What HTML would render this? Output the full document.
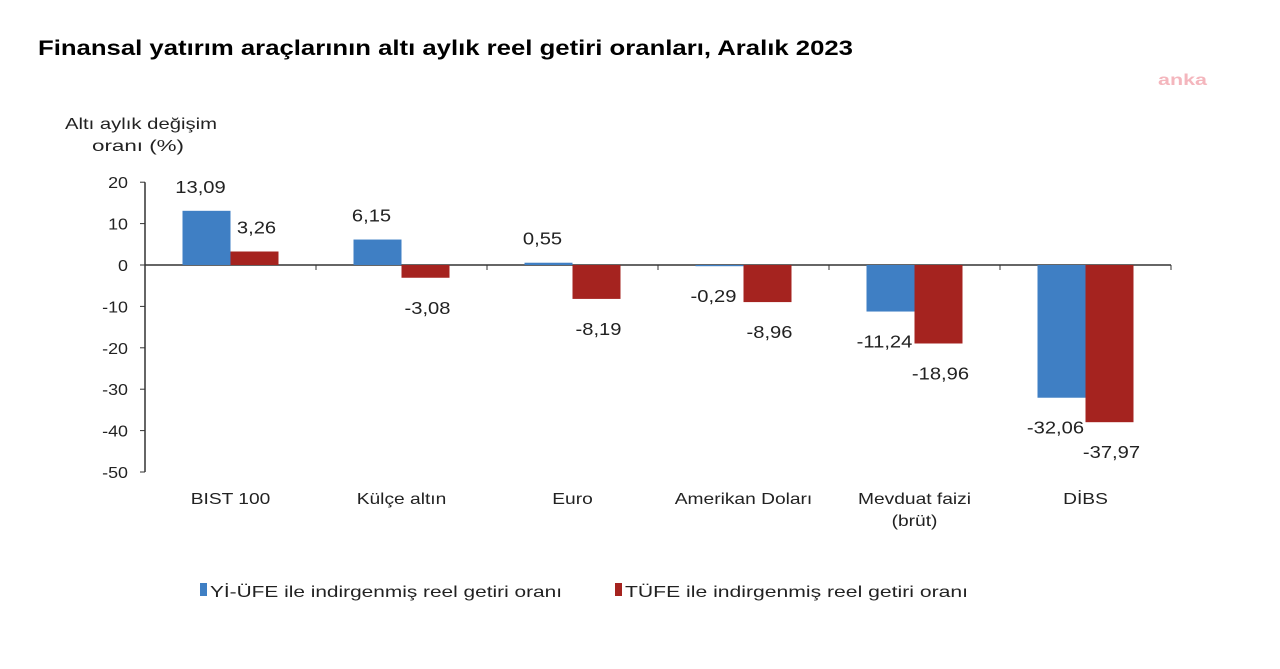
<!DOCTYPE html>
<html><head><meta charset="utf-8"><style>
body{margin:0;background:#fff;width:1280px;height:664px;overflow:hidden;font-family:"Liberation Sans",sans-serif}
</style></head><body>
<svg width="1280" height="664" font-family="Liberation Sans, sans-serif">
<text x="38" y="55" font-size="21" font-weight="bold" fill="#000" textLength="815" lengthAdjust="spacingAndGlyphs">Finansal yatırım araçlarının altı aylık reel getiri oranları, Aralık 2023</text>
<text x="1158" y="85" font-size="16" font-weight="bold" fill="#f4b6bd" textLength="49" lengthAdjust="spacingAndGlyphs">anka</text>
<text x="65" y="129" font-size="16" fill="#222" textLength="152" lengthAdjust="spacingAndGlyphs">Altı aylık değişim</text>
<text x="92" y="151" font-size="16" fill="#222" textLength="92" lengthAdjust="spacingAndGlyphs">oranı (%)</text>
<g id="g"></g>
<rect x="200" y="583" width="7" height="13" fill="#3f7fc4"/>
<text x="210" y="597" font-size="16" fill="#222" textLength="352" lengthAdjust="spacingAndGlyphs">Yİ-ÜFE ile indirgenmiş reel getiri oranı</text>
<rect x="615" y="583" width="7" height="13" fill="#a5231f"/>
<text x="625" y="597" font-size="16" fill="#222" textLength="343" lengthAdjust="spacingAndGlyphs">TÜFE ile indirgenmiş reel getiri oranı</text>
</svg>
<script>
const categories=["BIST 100","Külçe altın","Euro","Amerikan Doları","Mevduat faizi|(brüt)","DİBS"];
const yiufe=[13.09,6.15,0.55,-0.29,-11.24,-32.06];
const tufe=[3.26,-3.08,-8.19,-8.96,-18.96,-37.97];
const ticks=[20,10,0,-10,-20,-30,-40,-50];
const NS="http://www.w3.org/2000/svg";
const g=document.getElementById('g');
const x0=145,step=171,bw=48;
function y(v){return 265-v*4.14;}
function fmt(v){return v.toFixed(2).replace('.',',');}
function mk(t,a){const e=document.createElementNS(NS,t);for(const k in a)e.setAttribute(k,a[k]);g.appendChild(e);return e;}
function txt(x,yy,s,size,anchor,sc){const e=mk('text',{x:0,y:0,'font-size':size,fill:'#222','text-anchor':anchor,transform:`translate(${x},${yy}) scale(${sc},1)`});e.textContent=s;return e;}
let ax=mk('line',{x1:x0,x2:x0,y1:y(20),y2:y(-50),stroke:'#333','stroke-width':1.5});


let xa=mk('line',{x1:x0,x2:x0+6*step,y1:y(0),y2:y(0),stroke:'#333','stroke-width':1.5});


ticks.forEach(t=>{
 mk('line',{x1:x0-5,x2:x0,y1:y(t),y2:y(t),stroke:'#333'});
 const tx=txt(x0-17,y(t)+6,String(t),16,'end',1.12);
 
 
});
for(let i=0;i<=6;i++)mk('line',{x1:x0+i*step,x2:x0+i*step,y1:y(0),y2:y(0)+5,stroke:'#333'});
categories.forEach((c,i)=>{
 const cx=x0+i*step+step/2;
 c.split('|').forEach((ln,j)=>{const t=txt(cx,504+j*22,ln,16,'middle',1.2);
 
 });
 [[yiufe[i],'#3f7fc4',cx-bw,'bar-yiufe',-6],[tufe[i],'#a5231f',cx,'bar-tufe',2]].forEach(([v,col,bx,nm,off])=>{
  const r=mk('rect',{x:bx,y:Math.min(y(v),y(0)),width:bw,height:Math.abs(y(v)-y(0)),fill:col});
  
  
  const ly=v>=0?y(v)-18:y(v)+36;
  const t=txt(bx+bw/2+off,ly,fmt(v),18,'middle',1.12);
  
  
 });
});
</script>
</body></html>
